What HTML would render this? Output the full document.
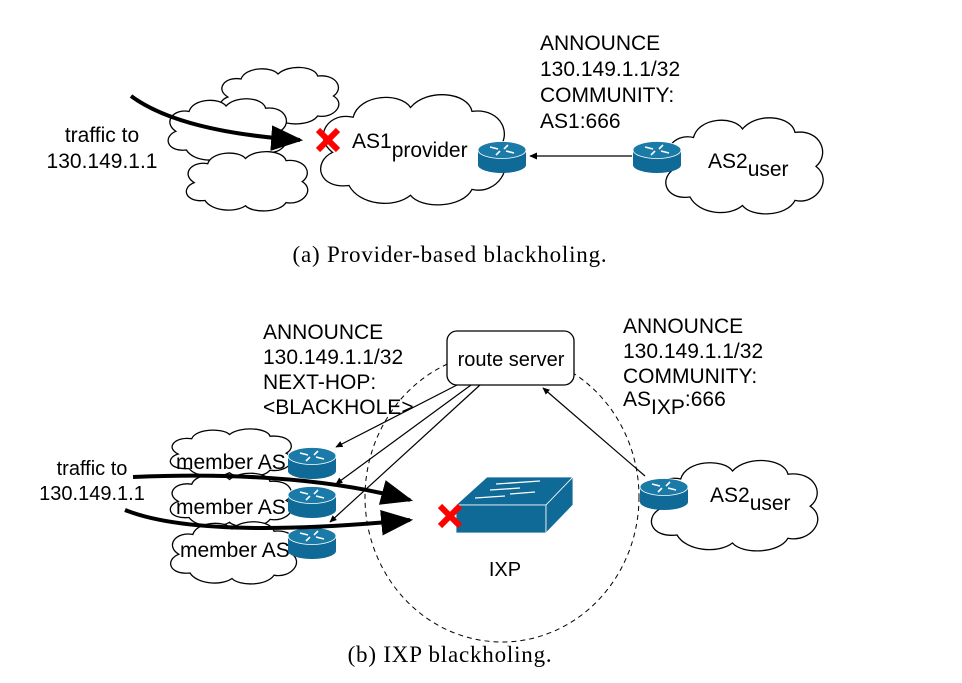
<!DOCTYPE html>
<html><head><meta charset="utf-8"><style>
html,body{margin:0;padding:0;background:#fff;}
svg{display:block;font-family:"Liberation Sans",sans-serif;}
</style></head><body>
<svg width="962" height="683" viewBox="0 0 962 683" xmlns="http://www.w3.org/2000/svg">
<defs>
<path id="cl" vector-effect="non-scaling-stroke" d="M20,50 C5,52 2,38 12,33 C2,25 10,12 22,15 C25,3 45,2 50,10 C58,0 78,2 80,12 C95,10 100,25 92,32 C102,40 92,55 80,52 C75,62 55,62 50,55 C42,62 25,60 20,50 Z"/>
<g id="rt">
<path d="M0,9 L0,24 A24,8 0 0 0 48,24 L48,9 Z" fill="#0f6a97"/>
<ellipse cx="24" cy="9" rx="24" ry="8.5" fill="#1a7aa8" stroke="#fff" stroke-width="0.8"/>
<g stroke="#fff" stroke-width="1.6" fill="none">
<path d="M12,6 L20,8"/><path d="M36,12 L28,10"/><path d="M18,14 L22,10"/><path d="M30,4 L26,8"/>
</g>
</g>
<marker id="ah" viewBox="0 0 10 10" refX="9" refY="5" markerWidth="8" markerHeight="8" orient="auto"><path d="M0,1 L10,5 L0,9 Z" fill="#000"/></marker>
<marker id="ahb" viewBox="0 0 10 10" refX="9" refY="5" markerWidth="6" markerHeight="6" orient="auto"><path d="M0,0.5 L10,5 L0,9.5 Z" fill="#000"/></marker>
</defs>
<g fill="#fff" stroke="#000" stroke-width="1.3">
<use href="#cl" transform="translate(212,64) scale(1.32,1.0)"/>
<use href="#cl" transform="translate(160,95) scale(1.32,1.1)"/>
<use href="#cl" transform="translate(178,148) scale(1.35,1.05)"/>
<use href="#cl" transform="translate(308,88) scale(2.05,1.95)"/>
<use href="#cl" transform="translate(655,112) scale(1.75,1.7)"/>
</g>
<use href="#rt" x="478" y="141"/>
<use href="#rt" x="633" y="141"/>
<line x1="632" y1="156" x2="530" y2="156" stroke="#000" stroke-width="1.3" marker-end="url(#ahb)"/>
<path d="M131,96 Q180,132 300,140" fill="none" stroke="#000" stroke-width="4" marker-end="url(#ah)"/>
<g stroke="#f00" stroke-width="6"><line x1="318" y1="130" x2="338" y2="150"/><line x1="338" y1="130" x2="318" y2="150"/></g>
<g font-size="21" fill="#000">
<text x="102" y="142" text-anchor="middle">traffic to</text>
<text x="102" y="168" text-anchor="middle">130.149.1.1</text>
<text x="352" y="148">AS1<tspan dy="9">provider</tspan></text>
<text x="708" y="168">AS2<tspan dy="8">user</tspan></text>
<text x="540" y="50">ANNOUNCE</text>
<text x="540" y="76">130.149.1.1/32</text>
<text x="540" y="102">COMMUNITY:</text>
<text x="540" y="128">AS1:666</text>
</g>
<text x="450" y="262" text-anchor="middle" font-family="Liberation Serif,serif" font-size="23" letter-spacing="0.8">(a)  Provider-based blackholing.</text>

<ellipse cx="502" cy="497" rx="137" ry="145" fill="none" stroke="#000" stroke-width="1" stroke-dasharray="5,4"/>
<g fill="#fff" stroke="#000" stroke-width="1.3">
<use href="#cl" transform="translate(162,426) scale(1.35,0.85)"/>
<use href="#cl" transform="translate(162,470) scale(1.35,0.95)"/>
<use href="#cl" transform="translate(162,518) scale(1.4,1.1)"/>
<use href="#cl" transform="translate(640,455) scale(1.85,1.6)"/>
</g>
<rect x="447" y="331" width="127" height="54" rx="10" fill="#fff" stroke="#000" stroke-width="1.3"/>
<text x="511" y="366" text-anchor="middle" font-size="20">route server</text>
<g stroke="#000" stroke-width="1.2" fill="none" marker-end="url(#ahb)">
<line x1="457" y1="385" x2="336" y2="447"/>
<line x1="471" y1="385" x2="336" y2="484"/>
<line x1="480" y1="385" x2="330" y2="522"/>
<line x1="645" y1="476" x2="543" y2="388"/>
</g>
<g font-size="21" fill="#000">
<text x="176" y="469">member AS</text>
<text x="176" y="514">member AS</text>
<text x="180" y="557">member AS</text>
</g>
<use href="#rt" x="288" y="447"/>
<use href="#rt" x="288" y="486"/>
<use href="#rt" x="288" y="527"/>
<use href="#rt" x="640" y="478"/>
<path d="M487,477 L573,477 L546,505 L456,505 Z" fill="#0f6a97" stroke="#fff" stroke-width="0.8"/>
<rect x="456" y="505" width="90" height="28" fill="#0f6a97" stroke="#fff" stroke-width="0.8"/>
<path d="M546,505 L573,477 L573,505 L546,533 Z" fill="#0f6a97" stroke="#fff" stroke-width="0.8"/>
<g stroke="#fff" stroke-width="1.3"><line x1="496" y1="484" x2="540" y2="481"/><line x1="490" y1="490" x2="520" y2="488"/><line x1="475" y1="498" x2="505" y2="496"/><line x1="510" y1="494" x2="535" y2="492"/></g>
<path d="M133,477 Q300,470 410,500" fill="none" stroke="#000" stroke-width="4" marker-end="url(#ah)"/>
<path d="M125,510 Q200,540 410,520" fill="none" stroke="#000" stroke-width="4" marker-end="url(#ah)"/>
<g stroke="#f00" stroke-width="6"><line x1="440" y1="506" x2="460" y2="526"/><line x1="460" y1="506" x2="440" y2="526"/></g>
<g font-size="20" fill="#000">
<text x="92" y="475" text-anchor="middle">traffic to</text>
<text x="92" y="500" text-anchor="middle">130.149.1.1</text>
<text x="505" y="576" text-anchor="middle">IXP</text>
</g>
<g font-size="21" fill="#000">
<text x="710" y="502">AS2<tspan dy="8">user</tspan></text>
<text x="263" y="339">ANNOUNCE</text>
<text x="263" y="364">130.149.1.1/32</text>
<text x="263" y="389">NEXT-HOP:</text>
<text x="263" y="414">&lt;BLACKHOLE&gt;</text>
<text x="623" y="333">ANNOUNCE</text>
<text x="623" y="358">130.149.1.1/32</text>
<text x="623" y="383">COMMUNITY:</text>
<text x="623" y="406">AS<tspan dy="8">IXP</tspan><tspan dy="-8">:666</tspan></text>
</g>
<text x="450" y="662" text-anchor="middle" font-family="Liberation Serif,serif" font-size="23" letter-spacing="0.8">(b)  IXP blackholing.</text>
</svg>
</body></html>
